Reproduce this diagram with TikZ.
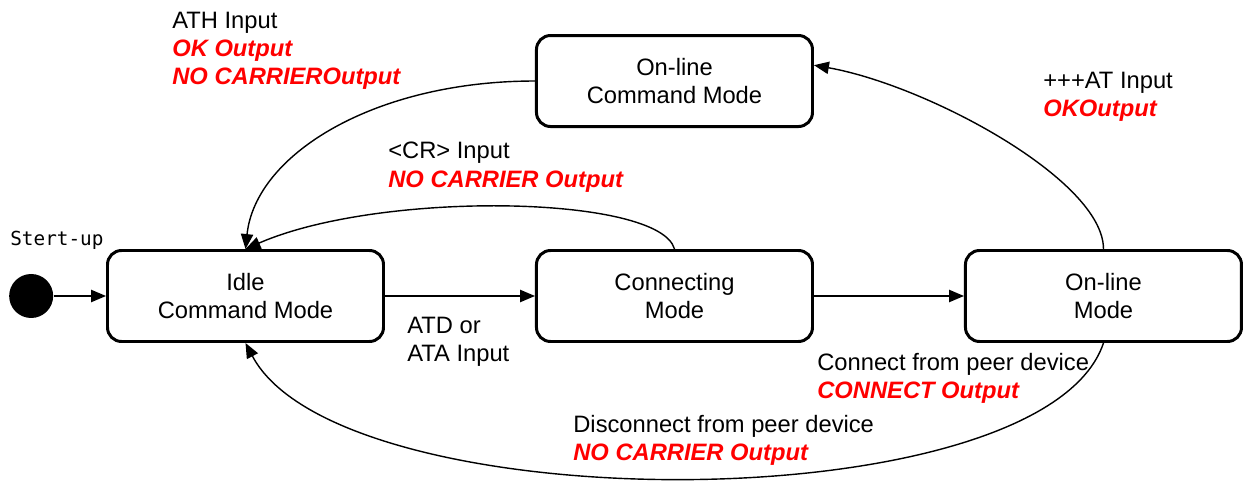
\documentclass[tikz,border=0pt]{standalone}
\usepackage{fontspec}
\setmainfont{Liberation Sans}
\newfontfamily\gothicfont{DejaVu Sans Mono}
\usetikzlibrary{shapes.geometric, arrows.meta, positioning}
\definecolor{outred}{RGB}{255,0,0}
\newcommand{\outtext}[1]{\textcolor{outred}{\bfseries\itshape #1}}
\tikzset{
	modebox/.style = {draw, rectangle, rounded corners=8pt, minimum width=5.52cm, minimum height=1.82cm, align=center, line width=1.7pt, draw=black},
	startpt/.style = {circle, fill=black, minimum size=0.88cm, inner sep=0pt},
	trans/.style   = {align=left, anchor=north west, inner sep=0pt},
	arrow/.style   = {-{Triangle[length=8.5pt, width=7pt]}, line width=0.8pt}
}

\begin{document}
\begin{tikzpicture}[every node/.style={font=\fontsize{13.5}{16}\selectfont}]
	\useasboundingbox (0,0) rectangle (24.9,-9.62);
	\node (idle)   [modebox] at (4.91,-5.92) {Idle\\Command Mode};
	\node (conn)   [modebox, right=3cm of idle] {Connecting\\Mode};
	\node (online) [modebox, right=3cm of conn] {On-line\\Mode};
	\node (oncmd)  [modebox, above=2.42cm of conn] {On-line\\Command Mode};
	\node (start)  [startpt, left=1.05cm of idle] {};
	\node (stertup) [trans, font=\gothicfont\fontsize{11}{13}\selectfont] at (0.2,-4.62) {Stert-up};

	\node (lblath)  [trans] at (3.44,-0.24) {ATH Input\\\outtext{OK Output}\\\outtext{NO CARRIEROutput}};
	\node (lblcr)   [trans] at (7.76,-2.84) {<CR> Input\\\outtext{NO CARRIER Output}};
	\node (lblat)   [trans] at (20.86,-1.44) {+++AT Input\\\outtext{OKOutput}};
	\node (lblatd)  [trans] at (8.14,-6.34) {ATD or\\ATA Input};
	\node (lblconn) [trans] at (16.34,-7.06) {Connect from peer device\\\outtext{CONNECT Output}};
	\node (lbldisc) [trans] at (11.46,-8.30) {Disconnect from peer device\\\outtext{NO CARRIER Output}};

	\draw [arrow] (start) -- (idle);
	\draw [arrow] (idle) -- (conn);
	\draw [arrow] (conn) -- (online);
	\draw [arrow] (conn.north) .. controls +(-0.3,1.08) and +(2.7,1.18) .. (idle.north);
	\draw [arrow] (oncmd.west) .. controls +(-3.2,0) and +(0.2,1.9) .. (idle.north);
	\draw [arrow] (online.north) .. controls +(0,1.38) and +(2.26,-0.4) .. ([yshift=9pt]oncmd.east);
	\draw [arrow] (online.south) .. controls +(-1.2,-3.6) and +(1.9,-3.6) .. (idle.south);
\end{tikzpicture}
\end{document}
